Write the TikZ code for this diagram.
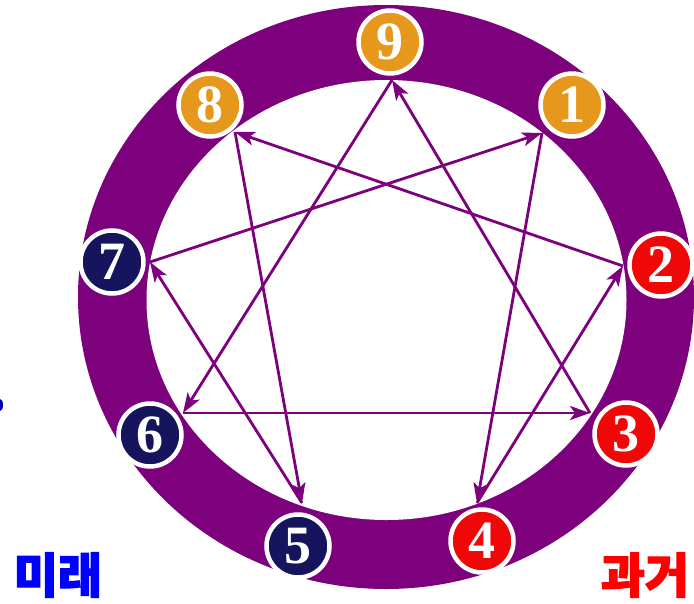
\documentclass[tikz,border=0pt]{standalone}
\usepackage{fontspec}
\newfontfamily\numfont{Liberation Serif}
\newfontfamily\krfont{Noto Sans CJK KR}[BoldFeatures={FakeBold=2.5}]
\usepackage{xcolor}
\usepackage{tikz}
\usetikzlibrary{arrows.meta}

\definecolor{ringpurple}{RGB}{125,0,125}
\definecolor{numorange}{RGB}{230,152,28}
\definecolor{numnavy}{RGB}{22,20,92}
\definecolor{numred}{RGB}{240,8,8}

\begin{document}
\begin{tikzpicture}[x=1pt, y=-1pt,
        numdot/.style={circle, fill=#1, draw=white, line width=4.5pt, minimum size=63pt,
                       inner sep=0pt, text=white, font=\numfont\bfseries\fontsize{54}{54}\selectfont},
        flow/.style={ringpurple, line width=2.8pt, -{Stealth[length=20pt, width=14pt, inset=5pt]}},
        kortext/.style={font=\krfont\bfseries\fontsize{48}{48}\selectfont, inner sep=0pt}]
        \useasboundingbox (0,0) rectangle (694,603);

        % ring
        \fill[ringpurple] (386,297) ellipse [x radius=308, y radius=292];
        \fill[white] (386.5,300) ellipse [x radius=240, y radius=220];
        \fill[blue!70!black] (0,405) ellipse [x radius=3, y radius=6];

        % where the lines meet the inner edge
        \coordinate (p9) at (392,80);
        \coordinate (p1) at (542,133);
        \coordinate (p2) at (623,266);
        \coordinate (p3) at (590,413);
        \coordinate (p4) at (477,503);
        \coordinate (p5) at (302,503);
        \coordinate (p6) at (183,413);
        \coordinate (p7) at (150,262);
        \coordinate (p8) at (235,132);

        \node[numdot=numorange] (n9) at (390,42)  {9};
        \node[numdot=numorange] (n8) at (210,105) {8};
        \node[numdot=numorange] (n1) at (572,105) {1};
        \node[numdot=numnavy]   (n7) at (112,262) {7};
        \node[numdot=numred]    (n2) at (661,265) {2};
        \node[numdot=numnavy]   (n6) at (150,435) {6};
        \node[numdot=numred]    (n3) at (626,434) {3};
        \node[numdot=numnavy]   (n5) at (298,546) {5};
        \node[numdot=numred]    (n4) at (482,541) {4};

        \path[flow]
        (p1) edge (p4)
        (p4) edge (p2)
        (p2) edge (p8)
        (p8) edge (p5)
        (p5) edge (p7)
        (p7) edge (p1)
        (p9) edge (p6)
        (p6) edge (p3)
        (p3) edge (p9);

        \node[kortext, text=blue] (future) at (58,575) {미래};
        \node[kortext, text=red]  (past)   at (645,575) {과거};
\end{tikzpicture}
\end{document}
